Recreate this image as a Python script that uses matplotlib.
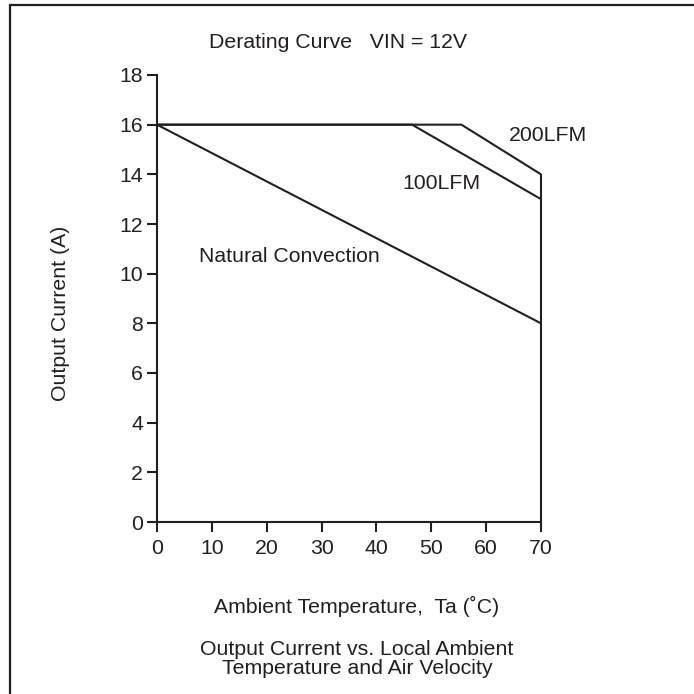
import matplotlib
matplotlib.use("Agg")
import matplotlib.pyplot as plt
from matplotlib.patches import Rectangle

plt.rcParams['font.family'] = ['Liberation Sans', 'DejaVu Sans']

# Data
temp_nc = [0, 70]
curr_nc = [16, 8]
temp_100 = [0, 46.5, 70]
curr_100 = [16, 16, 13]
temp_200 = [0, 55.5, 70]
curr_200 = [16, 16, 14]
limit_x = [70, 70]
limit_y = [0, 14]
xticks = [0, 10, 20, 30, 40, 50, 60, 70]
yticks = [0, 2, 4, 6, 8, 10, 12, 14, 16, 18]

ink = '#231f20'
fs = 15.3
fig = plt.figure(figsize=(6.94, 6.94), dpi=100)
ax = fig.add_axes([157/694, 1-522/694, (541-157)/694, (522-75)/694])

for xs, ys in [(temp_nc, curr_nc), (temp_100, curr_100), (temp_200, curr_200), (limit_x, limit_y)]:
    ax.plot(xs, ys, color=ink, lw=1.5, solid_capstyle='butt', clip_on=False)

ax.set_xlim(0, 70)
ax.set_ylim(0, 18)
ax.set_xticks(xticks)
ax.set_yticks(yticks)
ax.spines['top'].set_visible(False)
ax.spines['right'].set_visible(False)
for s in ['left', 'bottom']:
    ax.spines[s].set_linewidth(1.5)
    ax.spines[s].set_color(ink)
ax.tick_params(direction='out', length=7, width=1.5, color=ink, labelsize=fs, labelcolor=ink)
ax.tick_params(axis='y', pad=3)
ax.tick_params(axis='x', pad=5)

ax.text(71.3, 15.55, '200LFM', fontsize=fs, color=ink, ha='center', va='center', clip_on=False)
ax.text(51.8, 13.65, '100LFM', fontsize=fs, color=ink, ha='center', va='center')
ax.text(24.2, 10.7, 'Natural Convection', fontsize=fs, color=ink, ha='center', va='center')

fig.text(338/694, 1-42/694, 'Derating Curve   VIN = 12V', fontsize=fs, color=ink, ha='center', va='center')
fig.text(60/694, 1-313/694, 'Output Current (A)', fontsize=fs, color=ink, ha='center', va='center', rotation=90)
fig.text(357/694, 1-606/694, 'Ambient Temperature,  Ta (˚C)', fontsize=fs, color=ink, ha='center', va='center')
fig.text(357/694, 1-659/694, 'Output Current vs. Local Ambient\nTemperature and Air Velocity', fontsize=fs,
         color=ink, ha='center', va='center', linespacing=0.95)

fig.patches.append(Rectangle((9.5/694, -0.1), 1.2, 1 - 4.5/694 + 0.1, transform=fig.transFigure,
                             fill=False, edgecolor=ink, lw=1.6))

fig.savefig('out.png', dpi=100)
